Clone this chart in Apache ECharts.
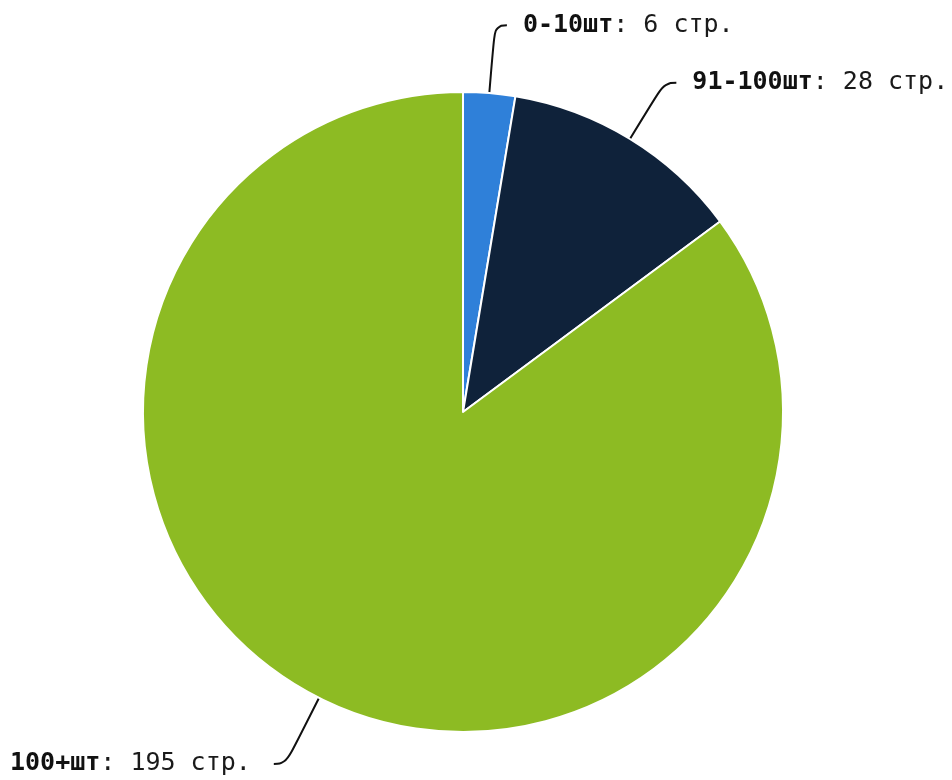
<!DOCTYPE html>
<html><head><meta charset="utf-8">
<script src="https://cdn.jsdelivr.net/npm/echarts@6/dist/echarts.min.js"></script>
<style>html,body{margin:0;padding:0;background:#fff}#c{width:952px;height:780px}</style>
</head><body><div id="c"></div>
<script>
const categories = ['0-10шт', '91-100шт', '100+шт'];
const values = [6, 28, 195];
const colors = ['#2f80d9', '#0f223a', '#8dbb23'];
const unit = 'стр.';

const labelGap = [16, 16, 23];
const lineLen = [68, 66, 74];

const chart = echarts.init(document.getElementById('c'));
chart.setOption({
  animation: false,
  series: [{
    type: 'pie',
    center: [463, 412],
    radius: 320,
    startAngle: 90,
    clockwise: true,
    avoidLabelOverlap: false,
    data: categories.map((c, i) => ({
      name: c, value: values[i],
      itemStyle: { color: colors[i] },
      label: { distanceToLabelLine: labelGap[i] },
      labelLine: { length: lineLen[i] }
    })),
    itemStyle: { borderColor: '#fff', borderWidth: 2 },
    label: {
      show: true,
      fontFamily: 'DejaVu Sans Mono',
      fontSize: 25,
      color: '#1a1a1a',
      formatter: p => '{b|' + p.name + '}: ' + p.value + ' ' + unit,
      rich: {
        b: { fontFamily: 'DejaVu Sans Mono', fontSize: 25, fontWeight: 'bold', color: '#111' }
      }
    },
    labelLine: {
      show: true,
      length: 68,
      length2: 12,
      smooth: 0.5,
      lineStyle: { color: '#111', width: 2 }
    }
  }]
});
</script></body></html>
